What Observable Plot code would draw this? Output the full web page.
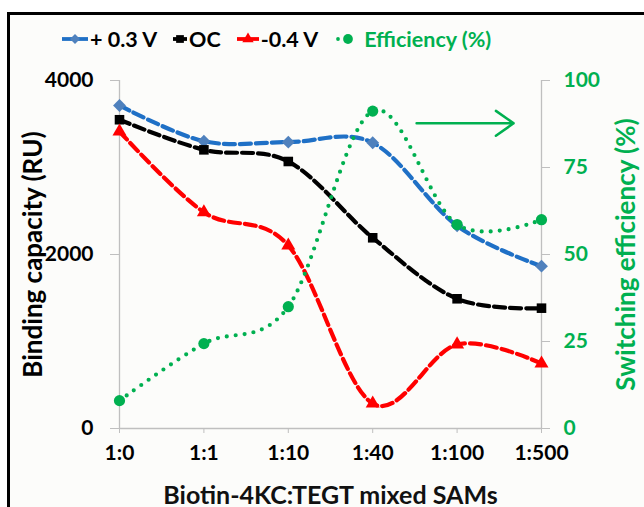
<!DOCTYPE html>
<html>
<head>
<meta charset="utf-8">
<script src="https://cdn.jsdelivr.net/npm/d3@7"></script>
<script src="https://cdn.jsdelivr.net/npm/@observablehq/plot@0.6"></script>
<style>
  html, body { margin: 0; padding: 0; background: #fff; width: 644px; height: 507px; overflow: hidden; font-family: Lato, "Open Sans", sans-serif; }
  #frame { position: absolute; left: 7px; top: 12px; width: 700px; height: 600px; border: 3px solid #000; background: #fcfcfa; }
  #legend { position: absolute; left: 62px; top: 25px; height: 28px; display: flex; align-items: center; font-weight: bold; font-size: 21.5px; white-space: nowrap; }
  #legend .item { display: flex; align-items: center; margin-right: 16px; }
  #legend svg { display: block; }
  #chart { position: absolute; left: 0; top: 60px; }
</style>
</head>
<body>
<div id="frame"></div>
<div id="legend"></div>
<div id="chart"></div>
<script>
// ---- data ----
const categories = ["1:0", "1:1", "1:10", "1:40", "1:100", "1:500"];
const plus03V = [3713, 3302, 3291, 3284, 2330, 1866];
const ocV = [3549, 3203, 3069, 2192, 1491, 1383];
const minus04V = [3414, 2486, 2103, 287, 966, 747];
const efficiency = [8, 24.4, 35, 91.2, 58.6, 60];
const leftTicks = [0, 2000, 4000];
const rightTicks = [0, 25, 50, 75, 100];
const seriesNames = ["+ 0.3 V", "OC", "-0.4 V", "Efficiency (%)"];
const arrowNote = [{ from: 3.52, to: 4.67, eff: 87.7 }];
const xTitle = "Biotin-4KC:TEGT mixed SAMs";
const yTitleLeft = "Binding capacity (RU)";
const yTitleRight = "Switching efficiency (%)";

// scale factor between right (%) and left (RU) axes: 100 % <-> 4000 RU
const ratio = 4000 / 100;

const GREEN = "#00b050";
const BLUE_LINE = "#1f70c6";
const BLUE_MARK = "#4f81bd";
const RED = "#ff0000";
const BLACK = "#000000";
const AXIS = "#bfbfbf";

const rows = categories.map((c, i) => ({
  i, c,
  pos: plus03V[i], oc: ocV[i], neg: minus04V[i], eff: efficiency[i] * ratio
}));

const lineOpts = { x: "i", curve: "cardinal", strokeWidth: 4.2 };

const chart = Plot.plot({
  width: 644,
  height: 447,
  marginTop: 20,
  marginBottom: 79,
  marginLeft: 119,
  marginRight: 103,
  style: { background: "transparent", fontFamily: "Lato, 'Open Sans', sans-serif", overflow: "visible" },
  x: { type: "linear", domain: [0, categories.length - 1] },
  y: { domain: [0, 4000] },
  marks: [
    Plot.ruleX([0, categories.length - 1], { stroke: AXIS, strokeWidth: 1.3 }),
    Plot.ruleY([0], { stroke: AXIS, strokeWidth: 1.3 }),
    Plot.axisY(leftTicks, { anchor: "left", tickSize: 9, tickPadding: 17, tickFormat: d3.format("d"), fontSize: 21, fontWeight: "bold", stroke: AXIS, fill: BLACK, label: null }),
    Plot.axisY(rightTicks.map(d => d * ratio), { anchor: "right", tickSize: 8, tickPadding: 14, tickFormat: d => d / ratio, fontSize: 21, fontWeight: "bold", stroke: AXIS, fill: GREEN, label: null }),
    Plot.axisX(d3.range(categories.length), { anchor: "bottom", tickSize: 5, tickPadding: 12, tickFormat: i => categories[i], fontSize: 21, fontWeight: "bold", stroke: AXIS, fill: BLACK, label: null }),
    Plot.text([yTitleLeft], { frameAnchor: "left", textAnchor: "middle", lineAnchor: "middle", rotate: -90, dx: -86, fontSize: 26, fontWeight: "bold", fill: BLACK }),
    Plot.text([yTitleRight], { frameAnchor: "right", textAnchor: "middle", lineAnchor: "middle", rotate: -90, dx: 85, fontSize: 26, fontWeight: "bold", fill: GREEN }),
    Plot.text([xTitle], { frameAnchor: "bottom", textAnchor: "middle", dy: 67, fontSize: 25, fontWeight: "bold", fill: "#111", lineAnchor: "middle" }),

    Plot.line(rows, { ...lineOpts, y: "pos", stroke: BLUE_LINE, strokeDasharray: "11 5" }),
    Plot.line(rows, { ...lineOpts, y: "oc", stroke: BLACK, strokeDasharray: "11 5" }),
    Plot.line(rows, { ...lineOpts, y: "neg", stroke: RED, strokeDasharray: "11 5" }),
    Plot.dot(rows, { x: "i", y: "pos", symbol: "diamond2", r: 5.8, fill: BLUE_MARK }),
    Plot.dot(rows, { x: "i", y: "oc", symbol: "square", r: 5.4, fill: BLACK }),
    Plot.dot(rows, { x: "i", y: "neg", symbol: "triangle", r: 5.2, fill: RED }),
    Plot.line(rows, { ...lineOpts, y: "eff", stroke: GREEN, strokeWidth: 4.2, strokeDasharray: "0 9", strokeLinecap: "round" }),
    Plot.dot(rows, { x: "i", y: "eff", symbol: "circle", r: 5.6, fill: GREEN }),

    Plot.arrow(arrowNote, { x1: "from", x2: "to", y1: d => d.eff * ratio, y2: d => d.eff * ratio, stroke: GREEN, strokeWidth: 2.5, headLength: 13, headAngle: 70 })
  ]
});
document.getElementById("chart").appendChild(chart);

// ---- legend ----
const legendSpec = [
  { name: seriesNames[0], stroke: BLUE_LINE, mark: BLUE_MARK, symbol: d3.symbolDiamond2, size: 64, w: 26, dash: null, text: BLACK },
  { name: seriesNames[1], stroke: BLACK, mark: BLACK, symbol: d3.symbolSquare, size: 60, w: 14, dash: null, text: BLACK },
  { name: seriesNames[2], stroke: RED, mark: RED, symbol: d3.symbolTriangle, size: 56, w: 22, dash: null, text: BLACK },
  { name: seriesNames[3], stroke: GREEN, mark: GREEN, symbol: d3.symbolCircle, size: 75, w: 22, dash: "dots", text: GREEN }
];
const legend = d3.select("#legend");
legendSpec.forEach(s => {
  const item = legend.append("div").attr("class", "item");
  const svg = item.append("svg").attr("width", s.w + 2).attr("height", 20);
  if (s.dash === "dots") {
    svg.append("circle").attr("cx", 4).attr("cy", 10).attr("r", 1.9).attr("fill", s.stroke);
    svg.append("path").attr("d", d3.symbol(s.symbol, s.size)()).attr("transform", `translate(${s.w / 2 + 3},10)`).attr("fill", s.mark);
  } else {
    svg.append("line").attr("x1", 0).attr("x2", s.w).attr("y1", 10).attr("y2", 10).attr("stroke", s.stroke).attr("stroke-width", 3.8);
    svg.append("path").attr("d", d3.symbol(s.symbol, s.size)()).attr("transform", `translate(${s.w / 2},10)`).attr("fill", s.mark);
  }
  item.append("span").text(s.name).style("color", s.text).style("margin-left", s.dash === "dots" ? "6px" : "0px");
});
</script>
</body>
</html>
